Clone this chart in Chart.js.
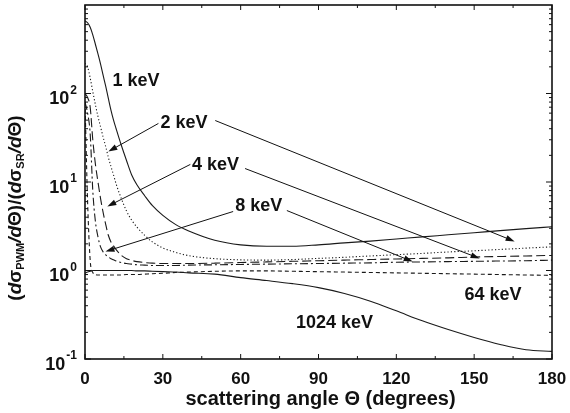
<!DOCTYPE html>
<html>
<head>
<meta charset="utf-8">
<script src="https://cdn.jsdelivr.net/npm/chart.js@4.4.1/dist/chart.umd.min.js"></script>
<style>
  html, body { margin: 0; padding: 0; background: #fff; }
</style>
</head>
<body>
<canvas id="ratioChart" width="570" height="413"></canvas>
<script>
// angles de diffusion (degres), communs a toutes les courbes
const angles = [0, 1, 2, 3, 4, 5, 6, 7, 8, 9, 10, 11, 12, 14, 16, 18, 20, 23, 26, 30, 35, 40,
    50, 60, 70, 80, 90, 100, 110, 120, 130, 140, 150, 160, 170, 180];

// rapport (dσPWM/dΘ)/(dσSR/dΘ)
const ratio1keV = [660, 630, 560, 460, 360, 280, 215, 160, 120, 88, 65, 50, 40, 26, 17.5, 12, 9.3, 7.0, 5.4, 4.2, 3.3, 2.8,
    2.2, 1.95, 1.88, 1.88, 1.95, 2.05, 2.15, 2.27, 2.4, 2.53, 2.67, 2.82, 2.97, 3.12];
const ratio2keV = [220, 200, 150, 105, 75, 55, 42, 32, 25, 19, 15, 12, 9.5, 6.5, 4.7, 3.7, 3.1, 2.5, 2.1, 1.8, 1.6, 1.47,
    1.36, 1.32, 1.31, 1.33, 1.37, 1.41, 1.46, 1.51, 1.56, 1.62, 1.67, 1.73, 1.79, 1.85];
const ratio4keV = [100, 90, 70, 30, 16, 10, 6.5, 4.5, 3.3, 2.5, 2.1, 1.9, 1.72, 1.48, 1.36, 1.3, 1.26, 1.23, 1.21, 1.2, 1.2, 1.2,
    1.21, 1.23, 1.25, 1.27, 1.29, 1.31, 1.33, 1.35, 1.37, 1.39, 1.42, 1.44, 1.46, 1.48];
const ratio8keV = [80, 60, 35, 8, 3.6, 2.4, 1.85, 1.62, 1.5, 1.42, 1.36, 1.32, 1.28, 1.23, 1.2, 1.18, 1.16, 1.15, 1.14, 1.14, 1.14, 1.15,
    1.16, 1.17, 1.18, 1.19, 1.2, 1.21, 1.22, 1.24, 1.25, 1.26, 1.27, 1.28, 1.29, 1.31];
const ratio64keV = [80, 6, 1.3, 0.95, 0.9, 0.89, 0.89, 0.89, 0.89, 0.89, 0.89, 0.89, 0.89, 0.89, 0.9, 0.9, 0.9, 0.91, 0.92, 0.93, 0.95, 0.96,
    0.98, 0.99, 0.99, 0.98, 0.97, 0.96, 0.95, 0.94, 0.93, 0.92, 0.91, 0.9, 0.89, 0.88];
const ratio1024keV = [0.93, 0.96, 0.98, 1.0, 1.0, 1.0, 1.0, 1.0, 1.0, 1.0, 1.0, 1.0, 1.0, 1.0, 1.0, 1.0, 0.99, 0.99, 0.98, 0.97, 0.96, 0.94,
    0.91, 0.83, 0.77, 0.71, 0.64, 0.55, 0.45, 0.35, 0.27, 0.215, 0.175, 0.146, 0.127, 0.122];

const seriesNames = ['1 keV', '2 keV', '4 keV', '8 keV', '64 keV', '1024 keV'];
const seriesValues = [ratio1keV, ratio2keV, ratio4keV, ratio8keV, ratio64keV, ratio1024keV];

// graduations
const xTickLabels = ['0', '30', '60', '90', '120', '150', '180'];
const yTickExponents = ['-1', '0', '1', '2'];

// styles des traits
const seriesDash = [[], [1.2, 2.2], [9, 4], [8, 3, 2, 3], [4, 3], []];

// etiquettes et fleches (en coordonnees des donnees)
const labelSpots = [
    { text: '1 keV', at: [10.6, 140] },
    { text: '2 keV', at: [29.1, 45.8] },
    { text: '4 keV', at: [41.2, 15.5] },
    { text: '8 keV', at: [57.9, 5.36] },
    { text: '64 keV', at: [146.3, 0.535] },
    { text: '1024 keV', at: [81.3, 0.252] }
];
const arrowSpots = [
    { from: [28.3, 45.9], to: [9.0, 22.1] },
    { from: [50.2, 49.5], to: [165.6, 2.13] },
    { from: [40.6, 15.8], to: [8.6, 5.29] },
    { from: [61.7, 14.2], to: [152.1, 1.37] },
    { from: [57.1, 4.64], to: [7.9, 1.64] },
    { from: [77.8, 4.76], to: [126.3, 1.26] }
];

const FONT = '"Liberation Sans", Arial, Helvetica, sans-serif';

// cadre, graduations, textes et fleches
const decorPlugin = {
    id: 'decor',
    afterDraw(chart) {
        const ctx = chart.ctx;
        const a = chart.chartArea;
        const x = chart.scales.x;
        const y = chart.scales.y;
        ctx.save();
        ctx.strokeStyle = '#111';
        ctx.fillStyle = '#111';

        function seg(x1, y1, x2, y2) {
            ctx.beginPath();
            ctx.moveTo(x1, y1);
            ctx.lineTo(x2, y2);
            ctx.stroke();
        }

        ctx.lineWidth = 1.6;
        ctx.strokeRect(a.left, a.top, a.right - a.left, a.bottom - a.top);

        // graduations x tous les 15 degres
        ctx.lineWidth = 1;
        for (let t = 0; t <= 180; t += 15) {
            const px = x.getPixelForValue(t);
            const len = t % 30 === 0 ? 5 : 3;
            seg(px, a.bottom, px, a.bottom - len);
            seg(px, a.top, px, a.top + len);
        }

        // graduations log
        for (let e = -1; e <= 2; e++) {
            for (let m = 1; m <= 9; m++) {
                const v = m * Math.pow(10, e);
                const py = y.getPixelForValue(v);
                const len = m === 1 ? 6 : 3;
                seg(a.left, py, a.left + len, py);
                seg(a.right, py, a.right - len, py);
            }
        }

        // etiquettes de l'axe x
        ctx.font = 'bold 17px ' + FONT;
        ctx.textAlign = 'center';
        ctx.textBaseline = 'middle';
        xTickLabels.forEach(lbl => {
            ctx.fillText(lbl, x.getPixelForValue(Number(lbl)), a.bottom + 20);
        });

        // etiquettes de l'axe y : 10 puissance n
        yTickExponents.forEach(ex => {
            const py = y.getPixelForValue(Math.pow(10, Number(ex)));
            ctx.font = 'bold 12px ' + FONT;
            const wExp = ctx.measureText(ex).width;
            ctx.textAlign = 'left';
            ctx.fillText(ex, a.left - 8 - wExp, py - 3);
            ctx.font = 'bold 18px ' + FONT;
            ctx.textAlign = 'right';
            ctx.fillText('10', a.left - 9 - wExp, py + 6);
        });

        // titre de l'axe x
        ctx.font = 'bold 20px ' + FONT;
        ctx.textAlign = 'center';
        ctx.fillText('scattering angle \u0398 (degrees)', (a.left + a.right) / 2 + 2, a.bottom + 40);

        // titre de l'axe y, avec indices
        const parts = [
            ['(', 'bold 19px'], ['d', 'italic bold 19px'], ['\u03c3', 'bold 19px'], ['PWM', 'bold 11px', 5],
            ['/d', 'italic bold 19px'], ['\u0398', 'bold 19px'], [')/(', 'bold 19px'],
            ['d', 'italic bold 19px'], ['\u03c3', 'bold 19px'], ['SR', 'bold 11px', 5],
            ['/d', 'italic bold 19px'], ['\u0398', 'bold 19px'], [')', 'bold 19px']
        ];
        let total = 0;
        parts.forEach(p => { ctx.font = p[1] + ' ' + FONT; total += ctx.measureText(p[0]).width; });
        ctx.save();
        ctx.translate(16, 208);
        ctx.rotate(-Math.PI / 2);
        ctx.textAlign = 'left';
        let cx = -total / 2;
        parts.forEach(p => {
            ctx.font = p[1] + ' ' + FONT;
            ctx.fillText(p[0], cx, p[2] || 0);
            cx += ctx.measureText(p[0]).width;
        });
        ctx.restore();

        // etiquettes des courbes
        ctx.font = 'bold 18px ' + FONT;
        ctx.textAlign = 'left';
        labelSpots.forEach(s => {
            ctx.fillText(s.text, x.getPixelForValue(s.at[0]), y.getPixelForValue(s.at[1]));
        });

        // fleches
        ctx.lineWidth = 1;
        arrowSpots.forEach(s => {
            const x1 = x.getPixelForValue(s.from[0]), y1 = y.getPixelForValue(s.from[1]);
            const x2 = x.getPixelForValue(s.to[0]), y2 = y.getPixelForValue(s.to[1]);
            const ang = Math.atan2(y2 - y1, x2 - x1);
            seg(x1, y1, x2 - 6 * Math.cos(ang), y2 - 6 * Math.sin(ang));
            ctx.beginPath();
            ctx.moveTo(x2, y2);
            ctx.lineTo(x2 - 9 * Math.cos(ang) + 3 * Math.sin(ang), y2 - 9 * Math.sin(ang) - 3 * Math.cos(ang));
            ctx.lineTo(x2 - 9 * Math.cos(ang) - 3 * Math.sin(ang), y2 - 9 * Math.sin(ang) + 3 * Math.cos(ang));
            ctx.closePath();
            ctx.fill();
        });

        ctx.restore();
    }
};

const ctx = document.getElementById('ratioChart').getContext('2d');
const ratioChart = new Chart(ctx, {
    type: 'line',
    data: {
        datasets: seriesNames.map((name, i) => ({
            label: name,
            data: angles.map((t, j) => ({ x: t, y: seriesValues[i][j] })),
            borderColor: '#1a1a1a',
            borderWidth: 1.1,
            borderDash: seriesDash[i],
            pointRadius: 0,
            fill: false,
            cubicInterpolationMode: 'monotone'
        }))
    },
    options: {
        responsive: false,
        animation: false,
        devicePixelRatio: 1,
        layout: { padding: { left: 85, right: 18, top: 5, bottom: 54 } },
        plugins: { legend: { display: false }, tooltip: { enabled: false } },
        scales: {
            x: { type: 'linear', min: 0, max: 180, display: false },
            y: { type: 'logarithmic', min: 0.1, max: 1000, display: false }
        }
    },
    plugins: [decorPlugin]
});
</script>
</body>
</html>
